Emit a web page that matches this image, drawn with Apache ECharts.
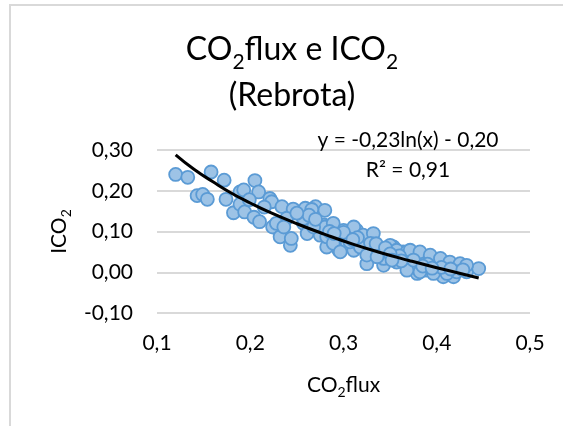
<!DOCTYPE html>
<html>
<head>
<meta charset="utf-8">
<script src="https://cdn.jsdelivr.net/npm/echarts@6/dist/echarts.min.js"></script>
<style>
html,body{margin:0;padding:0;background:#fff;}
#c{width:563px;height:426px;}
</style>
</head>
<body>
<div id="c"></div>
<script>
// CO2flux values (x) and ICO2 values (y)
const co2flux = [
  0.120,0.133,0.143,0.149,0.154,0.158,0.172,0.174,0.182,0.189,
  0.193,0.189,0.194,0.205,0.209,0.204,0.210,0.221,0.223,0.224,
  0.232,0.243,0.244,0.235,0.234,0.246,0.239,0.228,0.259,0.270,
  0.280,0.257,0.2715,0.279,0.261,0.275,0.286,0.295,0.282,0.293,
  0.266,0.280,0.257,0.268,0.236,0.282,0.289,0.300,0.314,0.325,
  0.320,0.304,0.2965,0.311,0.3286,0.332,0.339,0.325,0.3536,0.364,
  0.3787,0.357,0.343,0.368,0.3857,0.3965,0.389,0.400,0.411,0.418,
  0.425,0.432,0.445,0.379,0.407,0.418,0.289,0.311,0.321,0.332,
  0.307,0.318,0.325,0.339,0.350,0.357,0.368,0.343,0.3715,0.382,
  0.368,0.336,0.329,0.3715,0.382,0.393,0.404,0.414,0.425,0.432,
  0.3965,0.411,0.4215,0.300,0.315,0.335,0.345,0.360,0.375,0.390,
  0.405,0.415,0.428,0.263,0.250,0.215,0.199,0.270,0.285,0.290,
  0.310,0.350,0.362,0.385,0.395,0.352
];
const ico2 = [
  0.240,0.233,0.188,0.191,0.179,0.246,0.226,0.179,0.146,0.197,
  0.202,0.167,0.148,0.225,0.197,0.135,0.124,0.181,0.173,0.111,
  0.087,0.066,0.083,0.116,0.161,0.155,0.132,0.120,0.157,0.161,
  0.152,0.120,0.120,0.116,0.095,0.091,0.0745,0.054,0.062,0.087,
  0.154,0.111,0.132,0.111,0.111,0.087,0.071,0.103,0.103,0.087,
  0.074,0.071,0.050,0.054,0.066,0.046,0.038,0.021,0.062,0.050,
  0.042,0.025,0.017,0.013,0.034,0.030,0.005,0.001,0.021,0.005,
  0.009,0.001,0.009,-0.003,-0.011,-0.011,0.120,0.111,0.091,0.095,
  0.0745,0.062,0.042,0.054,0.066,0.054,0.050,0.034,0.021,0.001,
  0.005,0.038,0.071,0.054,0.050,0.042,0.034,0.025,0.021,0.017,
  -0.003,-0.003,0.001,0.098,0.085,0.070,0.060,0.040,0.030,0.020,
  0.012,0.008,0.006,0.140,0.145,0.160,0.178,0.130,0.100,0.095,
  0.080,0.045,0.028,0.015,0.010,0.030
];
// logarithmic trend line
const trendX = [0.12,0.14,0.16,0.18,0.20,0.22,0.25,0.28,0.31,0.34,0.37,0.40,0.42,0.445];
const trendY = [0.288,0.252,0.222,0.194,0.170,0.148,0.119,0.093,0.069,0.048,0.029,0.011,0.000,-0.014];
// axis tick values
const xTicks = [0.1,0.2,0.3,0.4,0.5];
const yTicks = [-0.10,0.00,0.10,0.20,0.30];
const titleLine1 = ['CO','2','flux e ICO','2'];
const titleLine2 = '(Rebrota)';
const equationText = 'y = -0,23ln(x) - 0,20';
const r2Text = 'R² = 0,91';

const FONT = 'Lato, "Open Sans", sans-serif';
const comma = (v, d) => v.toFixed(d).replace('.', ',');

const chart = echarts.init(document.getElementById('c'), null, {renderer:'canvas'});
chart.setOption({
  animation: false,
  backgroundColor: '#fff',
  textStyle: {fontFamily: FONT},
  title: {
    text: '{a|' + titleLine1[0] + '}{s|' + titleLine1[1] + '}{a|' + titleLine1[2] + '}{s|' + titleLine1[3] + '}\n{a|' + titleLine2 + '}',
    left: 292, top: 27, padding: 0, textAlign: 'center',
    textStyle: {
      fontFamily: FONT, fontWeight: 'normal',
      rich: {
        a: {fontFamily: FONT, fontWeight: 'normal', fontSize: 32, lineHeight: 46, color: '#000'},
        s: {fontFamily: FONT, fontWeight: 'normal', fontSize: 21, lineHeight: 20, verticalAlign: 'bottom', color: '#000'}
      }
    }
  },
  grid: {left: 157, right: 33, top: 150, bottom: 113, containLabel: false},
  xAxis: {
    type: 'value', min: xTicks[0], max: xTicks[xTicks.length-1], interval: 0.1,
    axisLine: {show: false}, axisTick: {show: false}, splitLine: {show: false},
    axisLabel: {fontFamily: FONT, fontSize: 21, color: '#000', margin: 20, formatter: v => comma(v,1)},
    name: '{a|CO}{s|2}{a|flux}', nameLocation: 'middle', nameGap: 58,
    nameTextStyle: {
      fontFamily: FONT,
      rich: {
        a: {fontFamily: FONT, fontSize: 21, lineHeight: 28, color: '#000'},
        s: {fontFamily: FONT, fontSize: 14, lineHeight: 12, verticalAlign: 'bottom', color: '#000'}
      }
    }
  },
  yAxis: {
    type: 'value', min: yTicks[0], max: yTicks[yTicks.length-1], interval: 0.1,
    axisLine: {show: false}, axisTick: {show: false},
    splitLine: {show: true, lineStyle: {color: '#d9d9d9', width: 2}},
    axisLabel: {fontFamily: FONT, fontSize: 21, color: '#000', margin: 24, formatter: v => comma(v,2)},
    name: '{a|ICO}{s|2}', nameLocation: 'middle', nameGap: 82, nameRotate: 90,
    nameTextStyle: {
      fontFamily: FONT,
      rich: {
        a: {fontFamily: FONT, fontSize: 21, lineHeight: 28, color: '#000'},
        s: {fontFamily: FONT, fontSize: 14, lineHeight: 12, verticalAlign: 'bottom', color: '#000'}
      }
    }
  },
  graphic: [
    {type: 'rect', silent: true, z: -10, shape: {x: 10, y: 5, width: 700, height: 600},
     style: {fill: 'none', stroke: '#d9d9d9', lineWidth: 2}},
    {type: 'text', silent: true, z: 100,
     style: {text: equationText, x: 408, y: 140, align: 'center', verticalAlign: 'middle', font: '21px ' + FONT, fill: '#000'}},
    {type: 'text', silent: true, z: 100,
     style: {text: r2Text, x: 408, y: 170, align: 'center', verticalAlign: 'middle', font: '21px ' + FONT, fill: '#000'}}
  ],
  series: [
    {
      type: 'scatter',
      data: co2flux.map((x, i) => [x, ico2[i]]),
      symbol: 'circle', symbolSize: 13,
      itemStyle: {color: '#9dc3e6', borderColor: '#5b9bd5', borderWidth: 1.8, opacity: 1},
      z: 2
    },
    {
      type: 'line',
      data: trendX.map((x, i) => [x, trendY[i]]),
      smooth: true, showSymbol: false, symbol: 'none',
      lineStyle: {color: '#000', width: 3},
      z: 3
    }
  ]
});
</script>
</body>
</html>
